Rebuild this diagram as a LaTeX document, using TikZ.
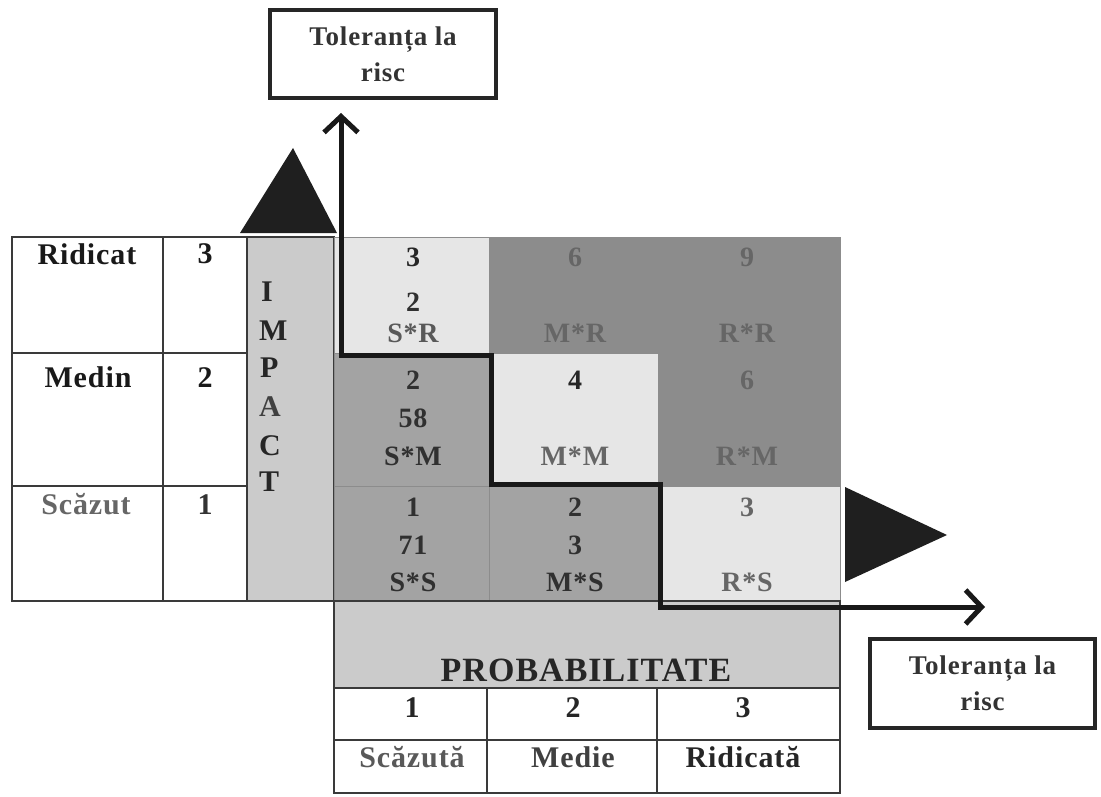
\documentclass[tikz,border=0pt]{standalone}
\usepackage{fontspec}
\setmainfont{Liberation Serif}
\newfontfamily\tf{Liberation Serif}[UprightFont={* Bold}, BoldFont={* Bold}, LetterSpace=3]
\usetikzlibrary{arrows.meta}
\definecolor{lightc}{HTML}{E6E6E6}
\definecolor{darkc}{HTML}{8C8C8C}
\definecolor{midc}{HTML}{A3A3A3}
\definecolor{band}{HTML}{CBCBCB}
\definecolor{dtxt}{HTML}{666666}
\definecolor{ntxt}{HTML}{303030}
\definecolor{gline}{HTML}{3A3A3A}
\tikzset{barbtip/.tip={Straight Barb[length=16pt,width=34pt,line width=5pt]}}
\begin{document}
\begin{tikzpicture}[x=1pt,y=-1pt,
  tline/.style={draw=gline, line width=1.6pt},
  cline/.style={draw=black!45, line width=0.9pt},
  lbl/.style={font=\tf\fontsize{30}{30}\selectfont, inner sep=0pt, text=ntxt},
  clbl/.style={font=\tf\fontsize{28}{28}\selectfont, inner sep=0pt, text=ntxt},
  dlbl/.style={clbl, text=dtxt},
  big/.style={font=\tf\fontsize{34}{34}\selectfont, inner sep=0pt, text=black!85},
  tolbox/.style={draw=black!85, line width=4pt, align=center, inner sep=0pt,
     font=\tf\fontsize{27}{36}\selectfont, text=black!80},
  stair/.style={draw=black!90, line width=5pt}
]
\useasboundingbox (0,0) rectangle (1101,797);

% ---------- left table ----------
\fill[band] (247,237) rectangle (334,601);
\draw[tline] (12,237) rectangle (334,601);
\draw[tline] (163,237) -- (163,601);
\draw[tline] (247,237) -- (247,601);
\draw[tline] (12,353) -- (247,353);
\draw[tline] (12,486) -- (247,486);

\node[lbl, text=black!90] (ridicat) at (87,254) {Ridicat};
\node[lbl, text=black!90] (medin) at (88,377) {Medin};
\node[lbl, text=black!60] (scazut) at (86,504) {Scăzut};
\node[lbl, text=black!90] (n3) at (205,254) {3};
\node[lbl, text=black!90] (n2) at (205,378) {2};
\node[lbl, text=black!80] (n1) at (205,505) {1};

\node[lbl, anchor=west, text=black!85] (iI) at (261,292) {I};
\node[lbl, anchor=west, text=black!85] (iM) at (259,331) {M};
\node[lbl, anchor=west, text=black!85] (iP) at (260,368) {P};
\node[lbl, anchor=west, text=black!75] (iA) at (259,407) {A};
\node[lbl, anchor=west, text=black!85] (iC) at (259,446) {C};
\node[lbl, anchor=west, text=black!85] (iT) at (259,482) {T};

% ---------- matrix ----------
\fill[lightc] (334,237) rectangle (489,353);
\fill[darkc]  (489,237) rectangle (658,353);
\fill[darkc]  (658,237) rectangle (840,353);
\fill[midc]   (334,353) rectangle (489,486);
\fill[lightc] (489,353) rectangle (658,486);
\fill[darkc]  (658,353) rectangle (840,486);
\fill[midc]   (334,486) rectangle (489,601);
\fill[midc]   (489,486) rectangle (658,601);
\fill[lightc] (658,486) rectangle (840,601);
\draw[cline] (334,237) rectangle (840,601);
\draw[cline] (489,237) -- (489,601);
\draw[cline] (658,237) -- (658,601);
\draw[cline] (334,353) -- (840,353);
\draw[cline] (334,486) -- (840,486);

% row 1
\node[clbl, text=black!85] (a1) at (413,257) {3};
\node[clbl] (a2) at (413,302) {2};
\node[clbl, text=black!65] (a3) at (413,333) {S*R};
\node[dlbl] (b1) at (575,257) {6};
\node[dlbl] (b3) at (575,333) {M*R};
\node[dlbl] (c1) at (747,257) {9};
\node[dlbl] (c3) at (747,333) {R*R};
% row 2
\node[clbl] (d1) at (413,380) {2};
\node[clbl] (d2) at (413,418) {58};
\node[clbl] (d3) at (413,456) {S*M};
\node[clbl, text=black!85] (e1) at (575,380) {4};
\node[clbl, text=black!60] (e3) at (575,456) {M*M};
\node[dlbl] (f1) at (747,380) {6};
\node[dlbl] (f3) at (747,456) {R*M};
% row 3
\node[clbl] (g1) at (413,507) {1};
\node[clbl] (g2) at (413,545) {71};
\node[clbl] (g3) at (413,582) {S*S};
\node[clbl] (h1) at (575,507) {2};
\node[clbl] (h2) at (575,545) {3};
\node[clbl] (h3) at (575,582) {M*S};
\node[clbl, text=black!60] (k1) at (747,507) {3};
\node[clbl, text=black!60] (k3) at (747,582) {R*S};

% ---------- bottom table ----------
\fill[band] (334,601) rectangle (840,688);
\draw[tline] (334,601) rectangle (840,793);
\draw[tline] (334,688) -- (840,688);
\draw[tline] (334,740) -- (840,740);
\draw[tline] (487,688) -- (487,793);
\draw[tline] (657,688) -- (657,793);
\node[big] (prob) at (586,670) {PROBABILITATE};
\node[lbl, text=black!85] (p1) at (412,708) {1};
\node[lbl, text=black!85] (p2) at (573,708) {2};
\node[lbl, text=black!85] (p3) at (743,708) {3};
\node[lbl, text=black!65] (ps) at (412,757) {Scăzută};
\node[lbl, text=black!75] (pm) at (573,757) {Medie};
\node[lbl, text=black!85] (pr) at (743,757) {Ridicată};

% ---------- triangles ----------
\fill[black!88] (240,233) -- (293,148) -- (337,233) -- cycle;
\fill[black!88] (845,487) -- (947,535) -- (845,582) -- cycle;

% ---------- tolerance boxes ----------
\node[tolbox, minimum width=226pt, minimum height=88pt] (toptol) at (383,54) {Toleranța la\\risc};
\node[tolbox, minimum width=225pt, minimum height=89pt] (rtol) at (982.5,683.5) {Toleranța la\\risc};

% ---------- risk tolerance staircase ----------
\coordinate (uptip) at (341,113);
\coordinate (s1) at (341,355);
\coordinate (s2) at (491,355);
\coordinate (s3) at (491,484);
\coordinate (s4) at (660,484);
\coordinate (s5) at (660,607);
\coordinate (rtip) at (985,607);
\draw[stair, barbtip-barbtip] (uptip) -- (s1) -- (s2) -- (s3) -- (s4) -- (s5) -- (rtip);
\end{tikzpicture}
\end{document}
